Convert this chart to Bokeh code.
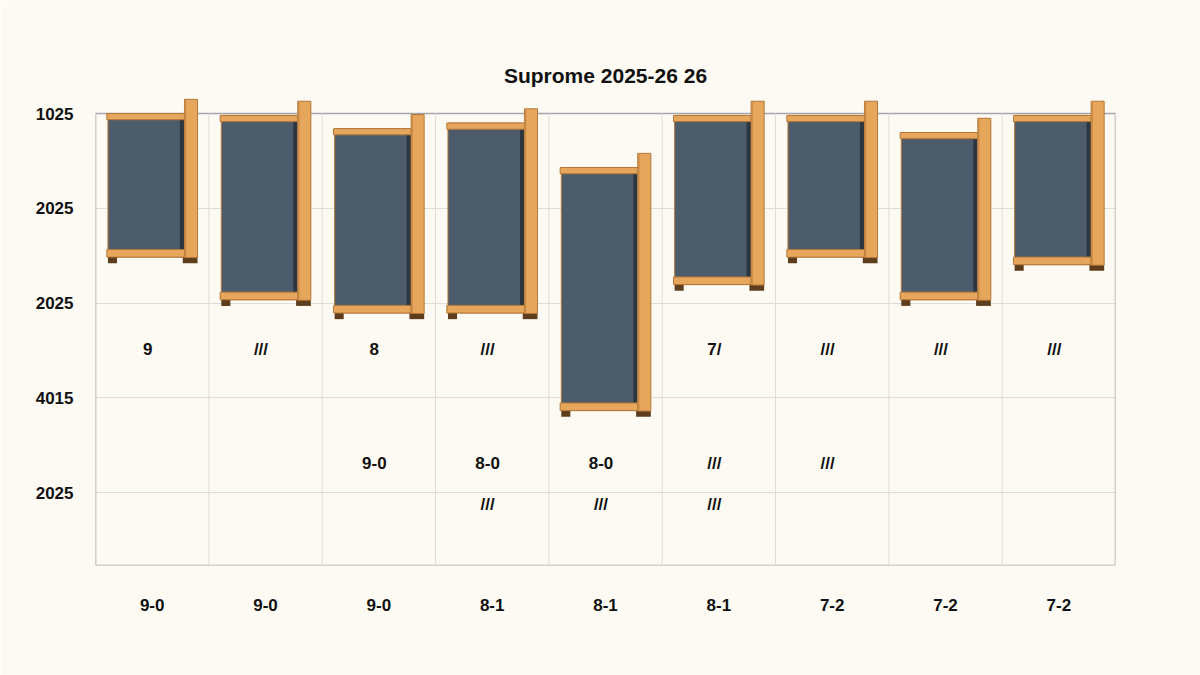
from bokeh.plotting import figure
from bokeh.models import FixedTicker, BoxAnnotation
from bokeh.core.properties import value
from bokeh.embed import file_html
from bokeh.resources import INLINE

# dane
kategorie = ["9-0", "9-0", "9-0", "8-1", "8-1", "8-1", "7-2", "7-2", "7-2"]
y_ticki = [1, 2, 3, 4, 5]
y_etykiety = ["2025", "4015", "2025", "2025", "1025"]
gora = [5.0, 4.98, 4.84, 4.90, 4.43, 4.98, 4.98, 4.80, 4.98]
dol = [3.42, 2.97, 2.83, 2.83, 1.80, 3.13, 3.42, 2.97, 3.34]
wiersz1 = ["9", "///", "8", "///", "", "7/", "///", "///", "///"]
wiersz2 = ["", "", "9-0", "8-0", "8-0", "///", "///", "", ""]
wiersz3 = ["", "", "", "///", "///", "///", "", "", ""]
poziomy = [2.51, 1.31, 0.87]

TLO = "#fcfaf3"
DREWNO = "#e6a75c"
DREWNO_KRAW = "#b5783a"
CIEMNE = "#4c5c6a"
CIEN = "#2c3640"
NOZKI = "#5e3d1c"
SIATKA = "#deded9"
RAMKA = "#a3a7ab"
FONT = "Liberation Sans"

n = len(kategorie)
srodki = [i + 0.5 for i in range(n)]
y_min, y_max = 0.23, 5.0

p = figure(width=1200, height=675, x_range=(0, n), y_range=(y_min, 5.18),
           output_backend="svg", toolbar_location=None,
           min_border_left=95, min_border_right=85, min_border_top=96, min_border_bottom=110)
p.background_fill_color = TLO
p.border_fill_color = TLO
p.outline_line_color = None

p.title.text = "Suprome 2025-26 26"
p.title.align = "center"
p.title.text_font = FONT
p.title.text_font_size = "21px"
p.title.text_font_style = "bold"
p.title.text_color = "#111111"
p.title.standoff = 20

# osie
p.xaxis.ticker = FixedTicker(ticks=srodki)
p.xaxis.major_label_overrides = {s: k for s, k in zip(srodki, kategorie)}
p.yaxis.ticker = FixedTicker(ticks=y_ticki)
p.yaxis.major_label_overrides = {t: e for t, e in zip(y_ticki, y_etykiety)}
for ax in (p.xaxis, p.yaxis):
    ax.axis_line_color = None
    ax.major_tick_line_color = None
    ax.minor_tick_line_color = None
    ax.major_label_text_font = FONT
    ax.major_label_text_font_style = "bold"
    ax.major_label_text_color = "#111111"
p.xaxis.major_label_text_font_size = "17px"
p.xaxis.major_label_standoff = 27
p.yaxis.major_label_text_font_size = "17px"
p.yaxis.major_label_standoff = 16

p.xgrid.grid_line_color = None
p.ygrid.grid_line_color = SIATKA
p.ygrid.grid_line_width = 1

# pionowe linie siatki i ramka wykresu
granice = list(range(1, n))
p.segment(x0=granice, x1=granice, y0=[y_min] * len(granice), y1=[y_max] * len(granice),
          line_color=SIATKA, line_width=1)
p.add_layout(BoxAnnotation(left=0, right=n, bottom=y_min, top=y_max, fill_color=None,
                           fill_alpha=0, line_color=RAMKA, line_alpha=1, line_width=1.5,
                           level="underlay"))

# skrzynki
cialo_l = [c - 0.39 for c in srodki]
cialo_p = [c + 0.27 for c in srodki]
slup_l = [c + 0.285 for c in srodki]
slup_p = [c + 0.40 for c in srodki]
listwa_d = [d + 0.065 for d in dol]

# ciemne wnętrze
p.quad(left=cialo_l, right=cialo_p, top=gora, bottom=listwa_d,
       fill_color=CIEMNE, line_color=DREWNO_KRAW, line_width=1)
# cień przy słupku
p.quad(left=[c + 0.245 for c in srodki], right=slup_l, top=[g - 0.06 for g in gora], bottom=listwa_d,
       fill_color=CIEN, line_color=None)
# nóżki
p.quad(left=cialo_l, right=[c - 0.31 for c in srodki], top=listwa_d, bottom=dol,
       fill_color=NOZKI, line_color=None)
p.quad(left=[c + 0.27 for c in srodki], right=slup_p, top=listwa_d, bottom=dol,
       fill_color=NOZKI, line_color=None)
# listwa dolna
p.quad(left=[c - 0.40 for c in srodki], right=slup_l, top=[d + 0.145 for d in dol], bottom=listwa_d,
       fill_color=DREWNO, line_color=DREWNO_KRAW, line_width=1)
# listwa górna
p.quad(left=[c - 0.40 for c in srodki], right=slup_l, top=gora, bottom=[g - 0.065 for g in gora],
       fill_color=DREWNO, line_color=DREWNO_KRAW, line_width=1)
# słupek z prawej
p.quad(left=slup_l, right=slup_p, top=[g + 0.15 for g in gora], bottom=[d + 0.06 for d in dol],
       fill_color=DREWNO, line_color=DREWNO_KRAW, line_width=1)
p.quad(left=slup_l, right=[c + 0.30 for c in srodki], top=[g + 0.14 for g in gora], bottom=[d + 0.07 for d in dol],
       fill_color="#c98a45", line_color=None)

# etykiety tekstowe w wierszach
for wiersz, poz in zip([wiersz1, wiersz2, wiersz3], poziomy):
    p.text(x=[c - 0.04 for c in srodki], y=[poz] * n, text=wiersz,
           text_font=value(FONT), text_font_style="bold", text_font_size="17px",
           text_color="#111111", text_align="center", text_baseline="middle")

open("out.html", "w").write(file_html(p, INLINE))
